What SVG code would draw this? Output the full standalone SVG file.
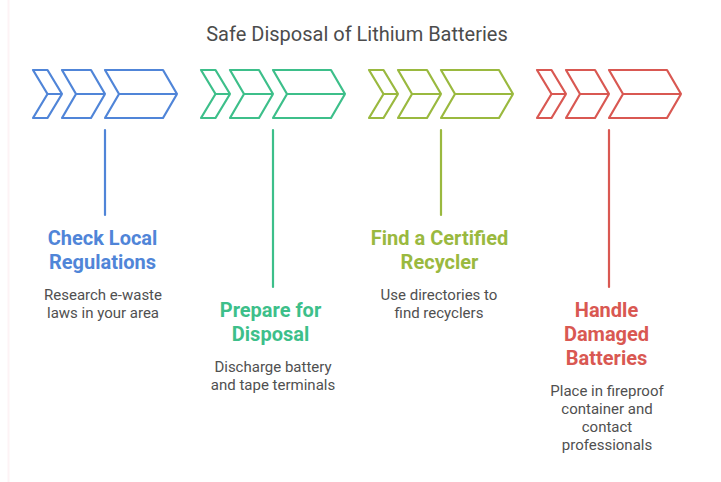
<svg xmlns="http://www.w3.org/2000/svg" width="721" height="482" viewBox="0 0 721 482">
<style>
.t{font-family:Roboto,"Liberation Sans",sans-serif;text-anchor:middle}
.title{font-size:20px;fill:#4c4c4c}
.h{font-size:20px;font-weight:700}
.b{font-size:15px;fill:#505050}
.s{fill:none;stroke-width:2.2;stroke-linejoin:round;stroke-linecap:round}
</style>
<defs>
<g id="chev">
<path d="M33 70H47.5L62 94L47.5 118H33L47.5 94Z M47.5 94H62"/>
<path d="M62 70H91L105 94L91 118H62L76 94Z M76 94H105"/>
<path d="M105 70H163L177 94L163 118H105L119 94Z M119 94H177"/>
</g>
</defs>
<rect width="721" height="482" fill="#fff"/>
<path d="M8.5 0V482" stroke="#fdf3f5" stroke-width="2" fill="none"/>
<text class="t title" x="357" y="41">Safe Disposal of Lithium Batteries</text>
<g id="connectors" class="s">
<path d="M105 130V215" stroke="#5085d8"/>
<path d="M273 130V287" stroke="#3dbf8a"/>
<path d="M441 130V215" stroke="#9ab93f"/>
<path d="M609 130V287" stroke="#d95852"/>
</g>
<g id="node1"><use href="#chev" class="s" stroke="#5085d8"/>
<text class="t h" fill="#5085d8" x="102.500" y="245">Check Local</text>
<text class="t h" fill="#5085d8" x="102.500" y="269">Regulations</text>
<text class="t b" x="103" y="300">Research e-waste</text>
<text class="t b" x="103" y="318">laws in your area</text></g>
<g id="node2"><use href="#chev" x="168" class="s" stroke="#3dbf8a"/>
<text class="t h" fill="#3dbf8a" x="270.500" y="317">Prepare for</text>
<text class="t h" fill="#3dbf8a" x="270.500" y="341">Disposal</text>
<text class="t b" x="273" y="372">Discharge battery</text>
<text class="t b" x="273" y="390">and tape terminals</text></g>
<g id="node3"><use href="#chev" x="336" class="s" stroke="#9ab93f"/>
<text class="t h" fill="#9ab93f" x="439.500" y="245">Find a Certified</text>
<text class="t h" fill="#9ab93f" x="439.500" y="269">Recycler</text>
<text class="t b" x="439" y="300">Use directories to</text>
<text class="t b" x="439" y="318">find recyclers</text></g>
<g id="node4"><use href="#chev" x="504" class="s" stroke="#d95852"/>
<text class="t h" fill="#d95852" x="606.500" y="317">Handle</text>
<text class="t h" fill="#d95852" x="606.500" y="341">Damaged</text>
<text class="t h" fill="#d95852" x="606.500" y="365">Batteries</text>
<text class="t b" x="607" y="396">Place in fireproof</text>
<text class="t b" x="607" y="414">container and</text>
<text class="t b" x="607" y="432">contact</text>
<text class="t b" x="607" y="450">professionals</text></g>
</svg>
